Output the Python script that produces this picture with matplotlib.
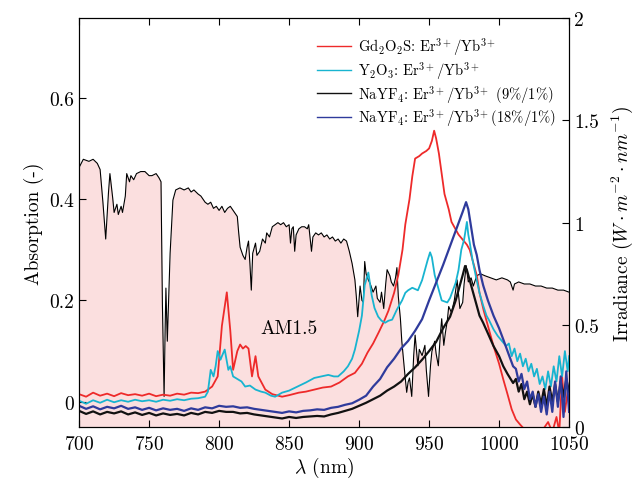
import numpy as np
import matplotlib
matplotlib.use("Agg")
import matplotlib.pyplot as plt

# ================================
# DATA
# ================================
# AM1.5 spectrum, right axis (W m^-2 nm^-1)
am_x = [700, 703, 707, 710, 713, 715, 717, 719, 721, 722, 724, 725, 727, 728, 730, 731, 733, 734,
        736, 737, 739, 741, 744, 747, 750, 752, 755, 757, 758.5, 759.5, 760.7, 761.5, 762, 763, 765,
        767, 769, 772, 775, 778, 780, 782, 785, 787, 790, 792, 794, 796, 798, 800, 802, 804, 806,
        808, 810, 812, 813, 814, 815, 817, 818.6, 820, 821, 822, 823, 824, 826, 827, 829, 831, 833,
        834, 836, 838, 840, 842, 844, 846, 848, 850, 851, 852, 853, 854, 855, 857, 859, 861, 863,
        864, 866, 867, 869, 871, 873, 875, 877, 879, 881, 883, 885, 887, 889, 891, 893, 895, 897,
        898, 899, 900.7, 902, 903, 904, 905, 906.6, 908, 910, 912, 913, 915, 916, 917.6, 919, 920,
        922, 923, 924.6, 926, 927, 928, 929.5, 930.5, 932.8, 934, 935, 936, 937.6, 939, 940, 942,
        943, 945, 947, 948, 949.6, 951, 952, 954, 955, 956.6, 958, 959, 960.5, 961.6, 963, 964, 966,
        968, 970, 971, 972, 974, 975, 976.5, 978, 980, 981.6, 984, 986.6, 990, 994, 998, 1002,
        1006, 1008, 1010, 1011, 1014, 1018, 1022, 1026, 1030, 1034, 1038, 1042, 1046, 1050]
am_y = [1.27, 1.31, 1.30, 1.31, 1.29, 1.26, 1.10, 0.92, 1.15, 1.24, 1.12, 1.05, 1.09, 1.04, 1.08, 1.05, 1.13, 1.24,
        1.20, 1.23, 1.21, 1.24, 1.25, 1.25, 1.23, 1.23, 1.24, 1.22, 1.20, 0.60, 0.15, 0.50, 0.68, 0.42, 0.85,
        1.11, 1.16, 1.17, 1.16, 1.17, 1.15, 1.16, 1.14, 1.13, 1.10, 1.09, 1.10, 1.07, 1.08, 1.06, 1.08, 1.05, 1.07,
        1.08, 1.06, 1.04, 1.03, 0.95, 0.88, 0.84, 0.82, 0.88, 0.91, 0.80, 0.67, 0.85, 0.90, 0.84, 0.86, 0.92, 0.90,
        0.95, 0.93, 0.98, 0.99, 1.00, 0.99, 1.00, 0.98, 0.99, 0.90, 0.97, 0.98, 0.86, 0.94, 0.97, 0.98, 0.98, 0.97,
        0.99, 0.86, 0.93, 0.95, 0.94, 0.95, 0.93, 0.94, 0.92, 0.93, 0.91, 0.92, 0.90, 0.92, 0.91, 0.86, 0.80, 0.72,
        0.64, 0.54, 0.69, 0.62, 0.61, 0.81, 0.75, 0.72, 0.70, 0.66, 0.69, 0.63, 0.61, 0.66, 0.58, 0.70, 0.77,
        0.74, 0.71, 0.69, 0.73, 0.78, 0.64, 0.53, 0.42, 0.25, 0.17, 0.22, 0.24, 0.15, 0.35, 0.45, 0.30,
        0.38, 0.35, 0.40, 0.28, 0.15, 0.30, 0.37, 0.42, 0.36, 0.30, 0.45, 0.53, 0.40, 0.46, 0.52, 0.59, 0.56,
        0.62, 0.72, 0.65, 0.58, 0.61, 0.70, 0.79, 0.71, 0.73, 0.69, 0.74, 0.75, 0.74, 0.73, 0.72, 0.73,
        0.72, 0.71, 0.67, 0.70, 0.71, 0.70, 0.70, 0.69, 0.69, 0.68, 0.68, 0.67, 0.67, 0.66]

# Gd2O2S: Er3+/Yb3+ (red)
gd_x = [700, 705, 710, 715, 720, 725, 730, 735, 740, 745, 750, 755, 760, 765, 770, 775, 780, 785, 790,
        795, 799, 802, 805.5, 808, 810, 813, 815, 817, 819, 821, 823.5, 826, 828, 833, 838, 845, 850,
        857, 862, 868, 874, 880, 886, 892, 897, 902, 906, 910, 914, 918, 921, 925, 928, 931, 933, 936,
        938, 940, 943, 945, 948, 950, 952, 953.6, 955, 957, 959, 961, 964, 966, 969, 971, 974, 977,
        979, 982, 984, 986, 989, 992, 996, 1000, 1003, 1006, 1009, 1012, 1015, 1020, 1025, 1030,
        1035, 1038, 1041, 1043, 1045, 1047, 1049, 1050]
gd_y = [0.015, 0.010, 0.018, 0.012, 0.016, 0.011, 0.017, 0.013, 0.015, 0.012, 0.016, 0.011, 0.014, 0.012, 0.016, 0.014, 0.018, 0.017, 0.020,
        0.030, 0.05, 0.15, 0.216, 0.14, 0.063, 0.10, 0.113, 0.105, 0.11, 0.105, 0.05, 0.09, 0.05, 0.024, 0.015, 0.010, 0.013,
        0.018, 0.020, 0.024, 0.028, 0.030, 0.038, 0.050, 0.057, 0.075, 0.097, 0.115, 0.137, 0.16, 0.18, 0.215, 0.25, 0.30, 0.35, 0.40,
        0.445, 0.48, 0.485, 0.49, 0.495, 0.50, 0.515, 0.535, 0.52, 0.49, 0.45, 0.41, 0.38, 0.355, 0.34, 0.33, 0.32, 0.31,
        0.30, 0.27, 0.25, 0.215, 0.18, 0.15, 0.11, 0.075, 0.044, 0.015, -0.015, -0.035, -0.045, -0.06, -0.055, -0.06,
        -0.04, -0.06, -0.03, -0.06, 0.05, -0.02, 0.02, -0.01]

# Y2O3: Er3+/Yb3+ (cyan)
y2_x = [700, 705, 710, 715, 720, 725, 730, 735, 740, 745, 750, 755, 760, 765, 770, 775, 780, 785, 790,
        792, 794, 796, 797.5, 799, 801, 802, 804, 806.6, 808, 810, 813.6, 816, 818.6, 822, 826, 830,
        833, 837, 840, 845, 850, 856, 862, 868, 873, 878, 882, 885, 889, 892, 895, 897, 900, 902, 904,
        906.6, 909, 911, 913.6, 916, 918.6, 921, 923.6, 927, 930.7, 933, 935, 938, 942, 945, 947, 949,
        950.7, 952, 954, 956, 959, 963, 965, 967, 969, 971, 973, 975, 977, 978, 979, 981, 984, 986,
        988.6, 991, 993, 996, 999, 1002, 1005, 1007, 1009, 1011, 1013, 1015, 1017, 1019, 1021, 1023,
        1025, 1027, 1029, 1031, 1033, 1035, 1037, 1039, 1041, 1043, 1045, 1047, 1049, 1050]
y2_y = [0.002, -0.004, 0.003, -0.002, 0.004, -0.001, 0.003, 0.000, 0.004, 0.001, 0.003, 0.000, 0.004, 0.002, 0.005, 0.003, 0.006, 0.007, 0.010,
        0.020, 0.063, 0.050, 0.070, 0.100, 0.083, 0.090, 0.103, 0.063, 0.070, 0.050, 0.044, 0.040, 0.030, 0.032, 0.024, 0.020,
        0.018, 0.012, 0.010, 0.018, 0.022, 0.030, 0.038, 0.047, 0.050, 0.053, 0.050, 0.050, 0.060, 0.070, 0.085, 0.103, 0.14, 0.17, 0.23,
        0.255, 0.21, 0.185, 0.168, 0.16, 0.156, 0.16, 0.162, 0.182, 0.20, 0.215, 0.22, 0.225, 0.22, 0.24, 0.26, 0.28,
        0.295, 0.285, 0.25, 0.23, 0.20, 0.196, 0.205, 0.22, 0.235, 0.26, 0.30, 0.32, 0.355, 0.33, 0.315, 0.28, 0.24, 0.215,
        0.19, 0.17, 0.16, 0.143, 0.13, 0.12, 0.11, 0.115, 0.09, 0.105, 0.08, 0.095, 0.07, 0.085, 0.06, 0.075,
        0.05, 0.065, 0.035, 0.05, 0.025, 0.06, 0.03, 0.07, 0.04, 0.09, 0.05, 0.10, 0.06, 0.09]

# NaYF4: Er3+/Yb3+ (9%/1%) (black)
n9_x = [700, 705, 710, 715, 720, 725, 730, 735, 740, 745, 750, 755, 760, 765, 770, 775, 780, 785, 790,
        795, 800, 805, 810, 815, 820, 825, 830, 835, 840, 845, 850, 855, 860, 865, 870, 875, 880, 885,
        890, 895, 900, 905, 910, 915, 920, 925, 930, 935, 940, 945, 950, 955, 960, 965, 969, 972, 974,
        975.7, 977, 979, 981, 984, 986, 988.6, 992, 996, 1000, 1003, 1006, 1010, 1012, 1014, 1016, 1018,
        1020, 1022, 1024, 1026, 1028, 1030, 1032, 1034, 1036, 1038, 1040, 1042, 1044, 1046, 1048, 1050]
n9_y = [-0.018, -0.024, -0.019, -0.025, -0.020, -0.023, -0.019, -0.025, -0.021, -0.026, -0.022, -0.027, -0.023, -0.026, -0.024, -0.027, -0.022, -0.025, -0.020,
        -0.022, -0.018, -0.020, -0.020, -0.023, -0.022, -0.025, -0.027, -0.029, -0.031, -0.033, -0.030, -0.032, -0.030, -0.029, -0.028, -0.029, -0.025, -0.022,
        -0.018, -0.014, -0.008, -0.002, 0.005, 0.012, 0.022, 0.030, 0.040, 0.055, 0.068, 0.083, 0.100, 0.118, 0.145, 0.168, 0.20, 0.23, 0.25,
        0.268, 0.26, 0.24, 0.22, 0.19, 0.17, 0.156, 0.135, 0.11, 0.09, 0.07, 0.055, 0.037, 0.045, 0.020, 0.035, 0.005,
        0.020, -0.005, 0.015, -0.010, 0.020, -0.005, 0.025, -0.010, 0.030, 0.000, 0.035, 0.000, 0.040, 0.010, 0.045, 0.020]

# NaYF4: Er3+/Yb3+ (18%/1%) (blue)
n18_x = [700, 705, 710, 715, 720, 725, 730, 735, 740, 745, 750, 755, 760, 765, 770, 775, 780, 785, 790,
         795, 800, 805, 810, 815, 820, 825, 830, 835, 840, 845, 850, 855, 860, 865, 870, 875, 880, 885,
         890, 895, 900, 905, 910, 915, 920, 925, 930, 935, 940, 945, 950, 955, 960, 964, 968, 972, 974,
         976.4, 978, 980, 982, 984, 986, 988.6, 992, 996, 1000, 1003, 1006, 1010, 1012, 1014, 1016, 1018,
         1020, 1022, 1024, 1026, 1028, 1030, 1032, 1034, 1036, 1038, 1040, 1042, 1044, 1046, 1048, 1050]
n18_y = [-0.008, -0.014, -0.009, -0.015, -0.010, -0.013, -0.008, -0.014, -0.011, -0.016, -0.012, -0.017, -0.013, -0.016, -0.014, -0.018, -0.013, -0.016, -0.011,
         -0.013, -0.008, -0.010, -0.009, -0.012, -0.011, -0.014, -0.016, -0.018, -0.020, -0.022, -0.019, -0.021, -0.018, -0.017, -0.015, -0.016, -0.012, -0.010,
         -0.006, -0.003, 0.004, 0.012, 0.030, 0.045, 0.068, 0.085, 0.105, 0.120, 0.140, 0.163, 0.20, 0.235, 0.27, 0.30, 0.33, 0.36, 0.375,
         0.394, 0.38, 0.345, 0.31, 0.29, 0.26, 0.23, 0.20, 0.17, 0.145, 0.123, 0.10, 0.07, 0.065, 0.04, 0.055, 0.025,
         0.04, 0.005, 0.02, -0.01, 0.015, -0.02, 0.01, -0.025, 0.02, -0.02, 0.04, -0.01, 0.05, -0.03, 0.06, -0.02]

labels = [r"Gd$_2$O$_2$S: Er$^{3+}$/Yb$^{3+}$",
          r"Y$_2$O$_3$: Er$^{3+}$/Yb$^{3+}$",
          r"NaYF$_4$: Er$^{3+}$/Yb$^{3+}$ (9%/1%)",
          r"NaYF$_4$: Er$^{3+}$/Yb$^{3+}$(18%/1%)"]

# ================================
# STYLE
# ================================
plt.rcParams['font.family'] = 'serif'
plt.rcParams['font.serif'] = ['cmr10', 'DejaVu Serif']
plt.rcParams['mathtext.fontset'] = 'cm'
plt.rcParams['axes.formatter.use_mathtext'] = True
plt.rcParams['axes.unicode_minus'] = False

fig = plt.figure(figsize=(6.38, 4.81), dpi=100)
ax = fig.add_axes([0.124, 0.110, 0.768, 0.850])
ax2 = ax.twinx()
ax.set_zorder(ax2.get_zorder() + 1)
ax.patch.set_visible(False)

# AM1.5 on right axis
ax2.fill_between(am_x, 0, am_y, color='#fbdfdf', lw=0)
ax2.plot(am_x, am_y, color='black', lw=0.8)
ax2.set_ylim(0, 2)
ax2.set_yticks([0, 0.5, 1, 1.5, 2])
ax2.set_yticklabels(['0', '0.5', '1', '1.5', '2'])
ax2.set_ylabel(r"Irradiance $(W \cdot m^{-2} \cdot nm^{-1})$", fontsize=14, labelpad=8)

# absorption curves on left axis
ax.plot(gd_x, gd_y, color='#ee2a2a', lw=1.3, label=labels[0])
ax.plot(y2_x, y2_y, color='#18b4d0', lw=1.3, label=labels[1])
ax.plot(n9_x, n9_y, color='#111111', lw=1.6, label=labels[2])
ax.plot(n18_x, n18_y, color='#2f3b9c', lw=1.6, label=labels[3])

ax.set_xlim(700, 1050)
ax.set_ylim(-0.05, 0.757)
ax.set_xticks([700, 750, 800, 850, 900, 950, 1000, 1050])
ax.set_yticks([0, 0.2, 0.4, 0.6])
ax.set_yticklabels(['0', '0.2', '0.4', '0.6'])
ax.set_xlabel(r"$\lambda$ (nm)", fontsize=14, labelpad=1)
ax.set_ylabel("Absorption (-)", fontsize=14)

ax.tick_params(axis='x', direction='in', top=True, labelsize=14, length=5, pad=6)
ax.tick_params(axis='y', direction='in', labelsize=14, length=5)
ax2.tick_params(axis='y', direction='in', labelsize=14, length=5)

ax.text(850, 0.145, "AM1.5", fontsize=14, ha='center', va='center')

leg = ax.legend(loc='upper right', bbox_to_anchor=(1.0, 0.99), frameon=False,
                fontsize=10.5, handlelength=2.3, labelspacing=0.12, handletextpad=0.5)
for line in leg.get_lines():
    line.set_linewidth(1.0)

fig.savefig("out.png", dpi=100)
